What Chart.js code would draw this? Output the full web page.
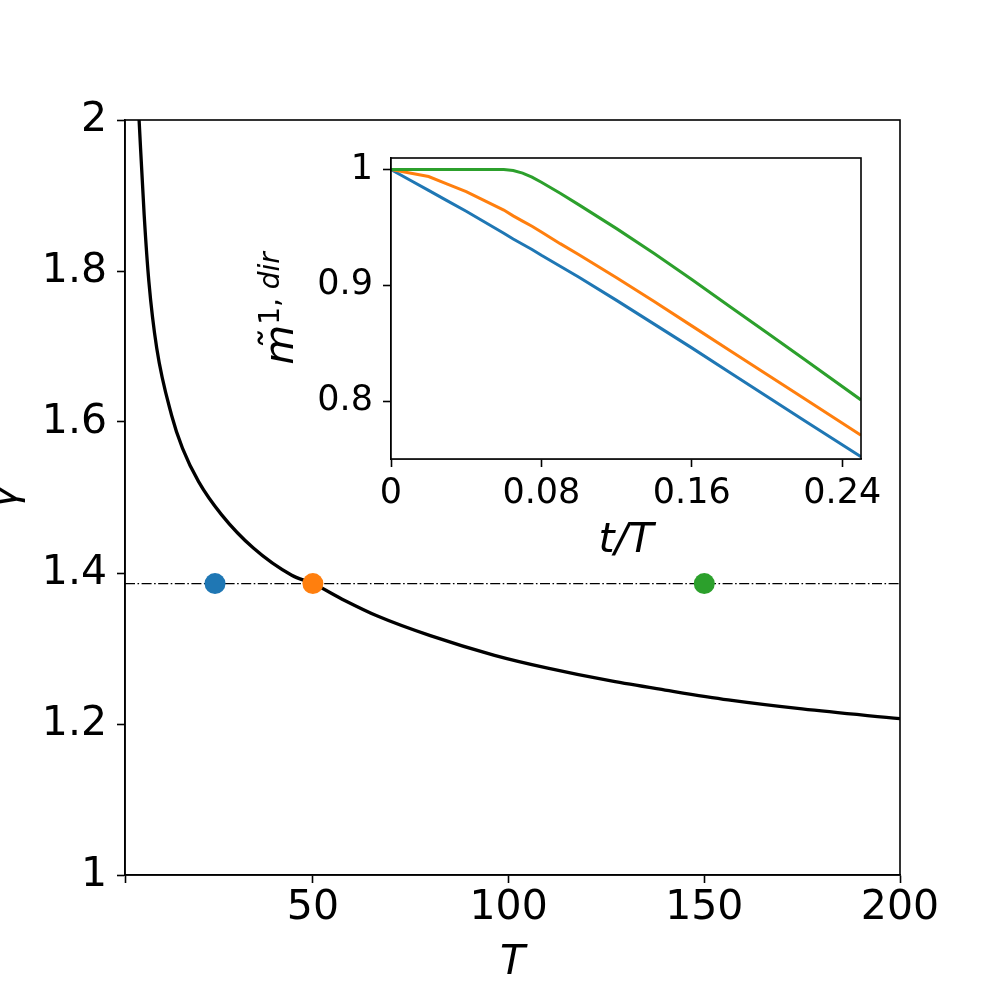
<!DOCTYPE html>
<html>
<head>
<meta charset="utf-8">
<script src="https://cdn.jsdelivr.net/npm/chart.js@4/dist/chart.umd.min.js"></script>
<style>
  html, body { margin: 0; padding: 0; background: #fff; }
  #wrap { position: relative; width: 1000px; height: 1000px; }
  #wrap canvas { position: absolute; left: 0; top: 0; }
</style>
</head>
<body>
<div id="wrap">
  <canvas id="mainChart" width="1000" height="1000"></canvas>
  <canvas id="insetChart" width="1000" height="1000"></canvas>
</div>
<script>
// main panel: gamma against T
const T_VALUES = [5, 5.6, 6.9, 8.1, 10.1, 13.9, 16.7, 20.8, 26.7, 34.8, 44.6, 50, 58, 66.5, 80, 96.4, 110, 126.2, 140, 156.1, 175, 200];
const GAMMA_VALUES = [2.06, 2.0, 1.874, 1.786, 1.698, 1.609, 1.565, 1.521, 1.477, 1.433, 1.397, 1.386, 1.364, 1.343, 1.317, 1.291, 1.274, 1.257, 1.245, 1.232, 1.22, 1.207];
const GAMMA_REF = 1.386;
const MARKED_T = [25, 50, 150];
const COLORS = ['#1f77b4', '#ff7f0e', '#2ca02c'];
const T_RANGE = [2, 200];
const GAMMA_RANGE = [1, 2];
const T_TICKS = [2, 50, 100, 150, 200];
const T_TICK_LABELS = ['', '50', '100', '150', '200'];
const GAMMA_TICKS = [1, 1.2, 1.4, 1.6, 1.8, 2];
const GAMMA_TICK_LABELS = ['1', '1.2', '1.4', '1.6', '1.8', '2'];

// inset: m~ against t/T, one series per marked T
const TT = [0, 0.01, 0.02, 0.03, 0.04, 0.05, 0.06, 0.065, 0.07, 0.075, 0.08, 0.09, 0.1, 0.12, 0.14, 0.16, 0.18, 0.2, 0.22, 0.25];
const M_T25 = [1, 0.991, 0.982, 0.973, 0.964, 0.9545, 0.945, 0.94, 0.9355, 0.931, 0.926, 0.9165, 0.907, 0.887, 0.8665, 0.846, 0.825, 0.804, 0.783, 0.752];
const M_T50 = [1, 0.997, 0.994, 0.9875, 0.981, 0.973, 0.965, 0.96, 0.9555, 0.951, 0.946, 0.936, 0.9265, 0.9065, 0.886, 0.865, 0.844, 0.823, 0.802, 0.7705];
const M_T150 = [1, 1, 1, 1, 1, 1, 1, 0.9992, 0.997, 0.9935, 0.989, 0.9795, 0.9695, 0.949, 0.9275, 0.905, 0.882, 0.859, 0.836, 0.801];
const TT_RANGE = [0, 0.25];
const M_RANGE = [0.75, 1.01];
const TT_TICKS = [0, 0.08, 0.16, 0.24];
const TT_TICK_LABELS = ['0', '0.08', '0.16', '0.24'];
const M_TICKS = [0.8, 0.9, 1];
const M_TICK_LABELS = ['0.8', '0.9', '1'];

const FONT = '"DejaVu Sans", sans-serif';

const fitAxis = (size, horizontal) => scale => {
    if (horizontal) scale.height = size; else scale.width = size;
    scale.paddingLeft = scale.paddingRight = scale.paddingTop = scale.paddingBottom = 0;
};
const setTicks = values => scale => { scale.ticks = values.map(v => ({ value: v })); };

function axis(range, ticks, labels, fontSize, pad, fitSize, horizontal, title) {
    return {
        type: 'linear',
        min: range[0],
        max: range[1],
        afterBuildTicks: setTicks(ticks),
        afterFit: fitAxis(fitSize, horizontal),
        ticks: {
            autoSkip: false,
            maxRotation: 0,
            padding: pad,
            color: '#000',
            font: { family: FONT, size: fontSize, lineHeight: 1 },
            callback: (v, i) => labels[i]
        },
        grid: { drawOnChartArea: false, drawTicks: true, tickLength: 8, tickColor: '#000', tickWidth: 1.6 },
        border: { display: true, color: '#000', width: 1.6 },
        title: title || { display: false }
    };
}

const framePlugin = {
    id: 'frame',
    beforeDatasetsDraw(chart) {
        if (!chart.options.plugins.frame.fill) return;
        const a = chart.chartArea;
        chart.ctx.save();
        chart.ctx.fillStyle = '#fff';
        chart.ctx.fillRect(a.left, a.top, a.right - a.left, a.bottom - a.top);
        chart.ctx.restore();
    },
    afterDraw(chart) {
        const a = chart.chartArea;
        const ctx = chart.ctx;
        ctx.save();
        ctx.strokeStyle = '#000';
        ctx.lineWidth = 1.6;
        ctx.strokeRect(a.left, a.top, a.right - a.left, a.bottom - a.top);
        ctx.restore();
    }
};

const gammaLabel = {
    id: 'gammaLabel',
    afterDraw(chart) {
        const ctx = chart.ctx;
        const a = chart.chartArea;
        ctx.save();
        ctx.translate(16, (a.top + a.bottom) / 2);
        ctx.rotate(-Math.PI / 2);
        ctx.fillStyle = '#000';
        ctx.font = 'italic 41px ' + FONT;
        ctx.textAlign = 'center';
        ctx.textBaseline = 'alphabetic';
        ctx.fillText('γ', 0, 0);
        ctx.restore();
    }
};

const mLabel = {
    id: 'mLabel',
    afterDraw(chart) {
        const ctx = chart.ctx;
        const a = chart.chartArea;
        ctx.save();
        ctx.translate(293, (a.top + a.bottom) / 2);
        ctx.rotate(-Math.PI / 2);
        ctx.fillStyle = '#000';
        ctx.textAlign = 'left';
        ctx.textBaseline = 'alphabetic';
        const big = 'italic 41px ' + FONT;
        const supUp = '28px ' + FONT;
        const supIt = 'italic 28px ' + FONT;
        ctx.font = big; const wm = ctx.measureText('m').width;
        ctx.font = supUp; const w1 = ctx.measureText('1, ').width;
        ctx.font = supIt; const wd = ctx.measureText('dir').width;
        let x = -(wm + w1 + wd) / 2;
        ctx.font = big;
        ctx.fillText('m', x, 0);
        ctx.textAlign = 'center';
        ctx.fillText('˜', x + wm / 2 + 3, -4);
        ctx.textAlign = 'left';
        x += wm;
        ctx.font = supUp;
        ctx.fillText('1, ', x, -14);
        x += w1;
        ctx.font = supIt;
        ctx.fillText('dir', x, -14);
        ctx.restore();
    }
};

new Chart(document.getElementById('mainChart'), {
    type: 'line',
    data: {
        datasets: [
            {
                data: MARKED_T.map(t => ({ x: t, y: GAMMA_REF })),
                showLine: false,
                pointRadius: 10.5,
                pointBorderWidth: 0,
                pointBackgroundColor: COLORS,
                pointBorderColor: COLORS
            },
            {
                data: T_RANGE.map(t => ({ x: t, y: GAMMA_REF })),
                borderColor: '#000',
                borderWidth: 1.2,
                borderDash: [10, 2.5, 1.6, 2.5],
                pointRadius: 0
            },
            {
                data: T_VALUES.map((t, i) => ({ x: t, y: GAMMA_VALUES[i] })),
                borderColor: '#000',
                borderWidth: 3.3,
                cubicInterpolationMode: 'monotone',
                pointRadius: 0
            }
        ]
    },
    options: {
        responsive: false,
        animation: false,
        events: [],
        layout: { padding: { left: 0, top: 120, right: 100, bottom: 0 } },
        scales: {
            x: axis(T_RANGE, T_TICKS, T_TICK_LABELS, 41, 5, 125, true, {
                display: true, text: 'T', color: '#000',
                font: { family: FONT, size: 41, style: 'italic', lineHeight: 1.2 },
                padding: { top: 0, bottom: 12 }
            }),
            y: axis(GAMMA_RANGE, GAMMA_TICKS, GAMMA_TICK_LABELS, 41, 10, 125, false)
        },
        plugins: { legend: { display: false }, tooltip: { enabled: false }, frame: { fill: false } }
    },
    plugins: [framePlugin, gammaLabel]
});

const insetSeries = [M_T25, M_T50, M_T150];

new Chart(document.getElementById('insetChart'), {
    type: 'line',
    data: {
        datasets: insetSeries.map((vals, k) => ({
            data: TT.map((t, i) => ({ x: t, y: vals[i] })),
            borderColor: COLORS[k],
            borderWidth: 3,
            pointRadius: 0
        })).reverse()
    },
    options: {
        responsive: false,
        animation: false,
        events: [],
        layout: { padding: { left: 0, top: 158, right: 139, bottom: 431 } },
        scales: {
            x: axis(TT_RANGE, TT_TICKS, TT_TICK_LABELS, 35, 9, 110, true, {
                display: true, text: 't/T', color: '#000',
                font: { family: FONT, size: 41, style: 'italic', lineHeight: 1.2 },
                padding: { top: 0, bottom: 3 }
            }),
            y: axis(M_RANGE, M_TICKS, M_TICK_LABELS, 35, 10, 391, false)
        },
        plugins: { legend: { display: false }, tooltip: { enabled: false }, frame: { fill: true } }
    },
    plugins: [framePlugin, mLabel]
});
</script>
</body>
</html>
